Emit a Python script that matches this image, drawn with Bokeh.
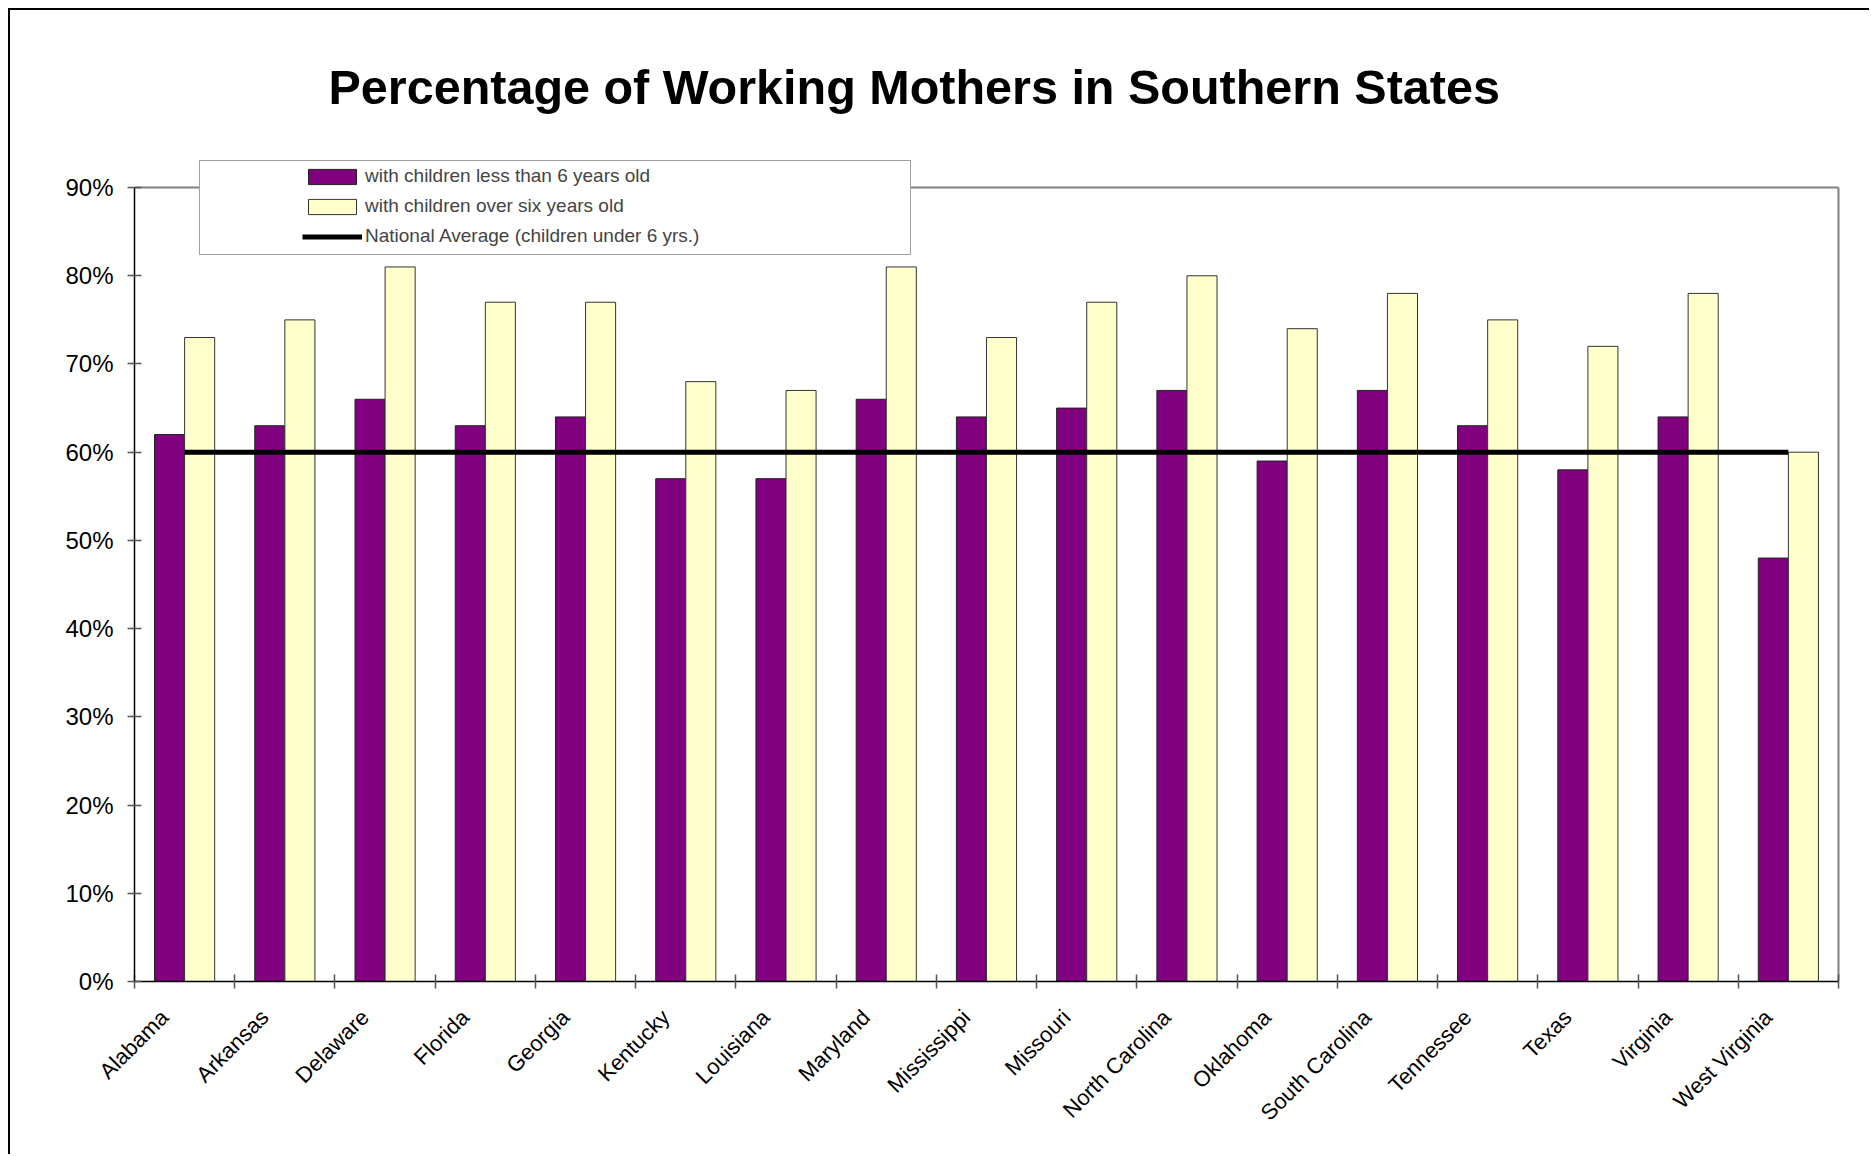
import math
from bokeh.plotting import figure
from bokeh.models import ColumnDataSource, Range1d, FixedTicker, Legend, LegendItem
from bokeh.transform import dodge
from bokeh.embed import file_html
from bokeh.resources import INLINE

# ---- data ----
states = ["Alabama", "Arkansas", "Delaware", "Florida", "Georgia", "Kentucky", "Louisiana",
          "Maryland", "Mississippi", "Missouri", "North Carolina", "Oklahoma",
          "South Carolina", "Tennessee", "Texas", "Virginia", "West Virginia"]
under_six = [62, 63, 66, 63, 64, 57, 57, 66, 64, 65, 67, 59, 67, 63, 58, 64, 48]
over_six = [73, 75, 81, 77, 77, 68, 67, 81, 73, 77, 80, 74, 78, 75, 72, 78, 60]
national_average = 60
y_ticks = [0, 10, 20, 30, 40, 50, 60, 70, 80, 90]

series_names = ["with children less than 6 years old",
                "with children over six years old",
                "National Average (children under 6 yrs.)"]
title_text = "Percentage of Working Mothers in Southern States"

FONT = "Liberation Sans"
n = len(states)
x_idx = list(range(n))
x_lo, x_hi = -0.5, n - 0.5
y_lo, y_hi = y_ticks[0], y_ticks[-1]
label_shift = -0.2  # category labels sit slightly left of the bar pair

W, H = 1861, 1146
p = figure(width=W, height=H,
           x_range=Range1d(x_lo, x_hi + 0.1), y_range=Range1d(y_lo, 94.2),
           output_backend="svg", toolbar_location=None,
           min_border_left=124, min_border_right=23,
           min_border_top=140, min_border_bottom=175)
p.styles = {"margin-left": "8px", "margin-top": "8px",
            "border-left": "2px solid black", "border-top": "2px solid black",
            "border-right": "0", "border-bottom": "0",
            "outline": "none", "box-shadow": "none"}

p.title.text = title_text
p.title.text_font = FONT
p.title.text_font_size = "48.5px"
p.title.text_font_style = "bold"
p.title.text_color = "black"
p.title.align = "left"
p.title.offset = 194
p.title.standoff = 74

p.xgrid.visible = False
p.ygrid.visible = False
p.outline_line_color = None
p.background_fill_color = "white"
p.border_fill_color = "white"

# plot-area frame (top and right edges, gray)
p.segment(x0=[x_lo, x_hi], y0=[y_hi, y_lo], x1=[x_hi, x_hi], y1=[y_hi, y_hi],
          line_color="#808080", line_width=2)

src = ColumnDataSource(dict(x=x_idx, under=under_six, over=over_six,
                            avg=[national_average] * n))

r1 = p.vbar(x=dodge("x", -0.15), top="under", width=0.3, source=src,
            fill_color="#800080", line_color="#222222", line_width=1)
r2 = p.vbar(x=dodge("x", 0.15), top="over", width=0.3, source=src,
            fill_color="#FFFFCC", line_color="#333333", line_width=1)
r3 = p.line(x="x", y="avg", source=src, line_color="black", line_width=5)

# x axis: labels near centers, ticks at category boundaries
label_pos = [i + label_shift for i in x_idx]
xa = p.xaxis[0]
xa.bounds = (x_lo, x_hi)
xa.ticker = FixedTicker(ticks=label_pos, minor_ticks=[i - 0.5 for i in range(n + 1)])
xa.major_label_overrides = {pos: s for pos, s in zip(label_pos, states)}
xa.major_label_orientation = math.pi / 4
xa.major_tick_line_color = None
xa.major_tick_out = 0
xa.major_tick_in = 0
xa.minor_tick_in = 7
xa.minor_tick_out = 7
xa.minor_tick_line_color = "#555555"
xa.minor_tick_line_width = 1.5
xa.axis_line_color = "black"
xa.axis_line_width = 1.5
xa.major_label_text_font = FONT
xa.major_label_text_font_size = "22px"
xa.major_label_text_color = "black"
xa.major_label_standoff = 25

ya = p.yaxis[0]
ya.bounds = (y_lo, y_hi)
ya.ticker = FixedTicker(ticks=y_ticks, minor_ticks=[])
ya.major_label_overrides = {t: f"{t}%" for t in y_ticks}
ya.major_tick_in = 7
ya.major_tick_out = 7
ya.major_tick_line_color = "#555555"
ya.major_tick_line_width = 1.5
ya.axis_line_color = "black"
ya.axis_line_width = 1.5
ya.major_label_text_font = FONT
ya.major_label_text_font_size = "24px"
ya.major_label_text_color = "black"
ya.major_label_standoff = 14

# legend box (background + border)
dummy = p.scatter(x=[], y=[], fill_alpha=0, line_alpha=0)
box_legend = Legend(items=[LegendItem(label=" ", renderers=[dummy])],
                    location=(65, 726), padding=0, margin=0, spacing=0,
                    glyph_width=10, glyph_height=10, label_width=700, label_height=93,
                    label_standoff=0, border_line_color="#404040", border_line_width=1.5,
                    background_fill_color="white", background_fill_alpha=1)
p.add_layout(box_legend, "center")

legend = Legend(items=[LegendItem(label=series_names[0], renderers=[r1]),
                       LegendItem(label=series_names[1], renderers=[r2]),
                       LegendItem(label=series_names[2], renderers=[r3])],
                location=(168, 732), padding=0, margin=0, spacing=4,
                glyph_width=60, glyph_height=19, label_height=26, label_standoff=3,
                label_text_font=FONT, label_text_font_size="19px",
                border_line_color=None, background_fill_alpha=0)
p.add_layout(legend, "center")

open("out.html", "w").write(file_html(p, INLINE))
